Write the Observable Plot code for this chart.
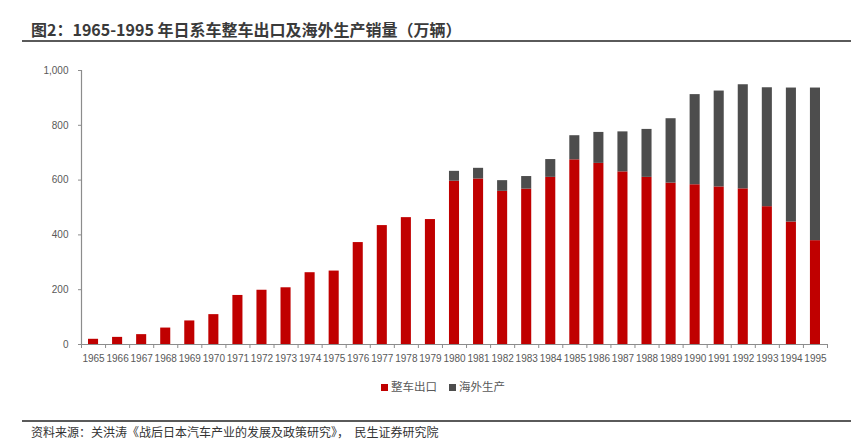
<!DOCTYPE html>
<html>
<head>
<meta charset="utf-8">
<script src="https://cdn.jsdelivr.net/npm/d3@7"></script>
<script src="https://cdn.jsdelivr.net/npm/@observablehq/plot@0.6"></script>
<style>
  body { margin: 0; background: #fff; }
  #wrap { position: relative; width: 851px; height: 443px; overflow: hidden; background: #fff; }
  #title { position: absolute; left: 31px; top: 19px; font-family: "Noto Sans CJK SC", sans-serif; font-weight: bold; font-size: 16px; color: #3a3a3a; line-height: 20px; white-space: nowrap; }
  #rule1 { position: absolute; left: 22px; right: 0; top: 40px; height: 2px; background: #5a5a5a; }
  #chart { position: absolute; left: 0; top: 50px; }
  #legend { position: absolute; left: 381px; top: 378px; font-family: "Noto Sans CJK SC", sans-serif; font-size: 11.5px; color: #595959; white-space: nowrap; line-height: 16px; }
  #legend span.sw { display: inline-block; width: 7px; height: 7px; margin-right: 3px; vertical-align: 0px; }
  #legend span.item { margin-right: 12px; }
  #rule2 { position: absolute; left: 22px; right: 0; top: 420px; height: 2px; background: #5a5a5a; }
  #source { position: absolute; left: 31px; top: 424px; font-family: "Noto Sans CJK SC", sans-serif; font-size: 12px; color: #333; white-space: pre; line-height: 16px; }
</style>
</head>
<body>
<div id="wrap">
  <div id="title">图2：1965-1995 年日系车整车出口及海外生产销量（万辆）</div>
  <div id="rule1"></div>
  <div id="chart"></div>
  <div id="legend"></div>
  <div id="rule2"></div>
  <div id="source">资料来源：关洪涛《战后日本汽车产业的发展及政策研究》，  民生证券研究院</div>
</div>
<script>
const years = [1965,1966,1967,1968,1969,1970,1971,1972,1973,1974,1975,1976,1977,1978,1979,1980,1981,1982,1983,1984,1985,1986,1987,1988,1989,1990,1991,1992,1993,1994,1995];
const exportsVals = [19,26,36,60,86,109,179,198,207,262,268,372,434,463,456,596,604,559,567,610,674,661,630,610,589,583,575,568,503,447,379];
const overseasVals = [0,0,0,0,0,0,0,0,0,0,0,0,0,0,0,36,39,39,46,65,88,113,146,175,235,329,350,380,434,489,557];
const yTicks = [0,200,400,600,800,1000];
const seriesNames = ["整车出口","海外生产"];
const seriesColors = ["#C00000","#4D4D4D"];

const data = years.map((y,i) => ({year: y, exp: exportsVals[i], ovs: overseasVals[i], total: exportsVals[i] + overseasVals[i]}));
const xDomain = [years[0] - 0.5, years[years.length-1] + 0.5];
const boundaries = years.map(y => y - 0.5).concat([years[years.length-1] + 0.5]);

const chart = Plot.plot({
  width: 851,
  height: 330,
  marginLeft: 81,
  marginRight: 24,
  marginTop: 20,
  marginBottom: 36,
  style: { fontFamily: "'Liberation Sans', Arial, sans-serif", fontSize: "10px", color: "#595959", background: "transparent" },
  x: { domain: xDomain, axis: null },
  y: { domain: [0, 1000], axis: null },
  marks: [
    Plot.rectY(data, { x1: d => d.year - 0.5, x2: d => d.year + 0.5, y1: 0, y2: "exp", fill: seriesColors[0], insetLeft: 7, insetRight: 7 }),
    Plot.rectY(data.filter(d => d.ovs > 0), { x1: d => d.year - 0.5, x2: d => d.year + 0.5, y1: "exp", y2: "total", fill: seriesColors[1], insetLeft: 7, insetRight: 7 }),
    Plot.ruleY([0], { stroke: "#8c8c8c", strokeWidth: 1.2 }),
    Plot.ruleX([xDomain[0]], { stroke: "#8c8c8c", strokeWidth: 1.2 }),
    Plot.axisY({ ticks: yTicks, tickFormat: d3.format(","), tickSize: 3, tickPadding: 10, stroke: "#8c8c8c", fill: "#595959", label: null }),
    Plot.axisX({ ticks: years, tickFormat: d => String(d), tickSize: 0, tickPadding: 10, fill: "#595959", label: null }),
    Plot.axisX({ ticks: boundaries, tickFormat: () => "", tickSize: 4, stroke: "#8c8c8c", label: null })
  ]
});
document.getElementById("chart").appendChild(chart);

const legend = document.getElementById("legend");
seriesNames.forEach((n, i) => {
  const item = document.createElement("span");
  item.className = "item";
  const sw = document.createElement("span");
  sw.className = "sw";
  sw.style.background = seriesColors[i];
  item.appendChild(sw);
  item.appendChild(document.createTextNode(n));
  legend.appendChild(item);
});
</script>
</body>
</html>
